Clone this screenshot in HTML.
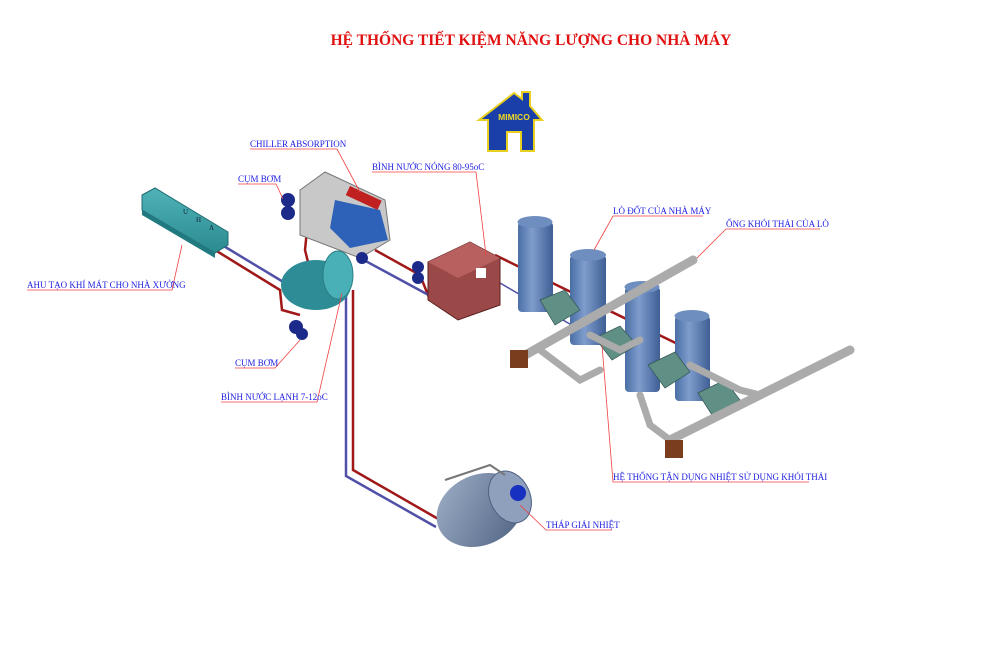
<!DOCTYPE html>
<html><head><meta charset="utf-8"><style>
html,body{margin:0;padding:0;background:#fff;}
svg{display:block;}
.l{font-family:"Liberation Serif",serif;font-size:9px;fill:#2020e0;}
</style></head><body>
<svg width="1000" height="647" viewBox="0 0 1000 647" xmlns="http://www.w3.org/2000/svg">
<defs>
<linearGradient id="cyl" x1="0" x2="1" y1="0" y2="0"><stop offset="0" stop-color="#4a6fa5"/><stop offset="0.4" stop-color="#7f9ccc"/><stop offset="1" stop-color="#3e5f95"/></linearGradient>
<linearGradient id="teal" x1="0" x2="0" y1="0" y2="1"><stop offset="0" stop-color="#4fb3b8"/><stop offset="1" stop-color="#2a8a90"/></linearGradient>
<linearGradient id="tw" x1="0" x2="1" y1="0" y2="1"><stop offset="0" stop-color="#9fb0c8"/><stop offset="1" stop-color="#4d6080"/></linearGradient>
</defs>
<text x="531" y="45" text-anchor="middle" font-family="Liberation Serif,serif" font-weight="bold" font-size="15.5" fill="#e01010">HỆ THỐNG TIẾT KIỆM NĂNG LƯỢNG CHO NHÀ MÁY</text>
<!-- logo -->
<polygon points="479,120 514,93 522,99 522,92 530,92 530,106 542,120 534,120 534,151 521,151 521,132 507,132 507,151 488,151 488,120" fill="#1a3fa8" stroke="#e8d020" stroke-width="2"/>
<text x="514" y="120" text-anchor="middle" font-family="Liberation Sans,sans-serif" font-weight="bold" font-size="8.5" fill="#f0d820">MIMICO</text>

<!-- pipes -->
<g fill="none" stroke-width="2.5">
<polyline points="215,250 280,290 282,310 300,315" stroke="#a01818"/>
<polyline points="222,245 285,283" stroke="#5050a8"/>
<polyline points="353,290 353,470 440,520" stroke="#a01818"/>
<polyline points="346,290 346,476 436,527" stroke="#5050a8"/>
<polyline points="375,250 420,275 430,300" stroke="#a01818"/>
<polyline points="360,258 460,312" stroke="#5050a8"/>
<polyline points="495,255 690,350" stroke="#a01818"/>
<polyline points="495,280 580,330" stroke="#5050a8" stroke-width="1.5"/>
<polyline points="310,200 305,250 310,270" stroke="#a01818"/>
</g>

<!-- AHU -->
<polygon points="142,195 155,188 228,232 228,245 215,253 142,210" fill="url(#teal)" stroke="#1f6d72" stroke-width="1"/>
<polygon points="142,210 215,253 215,258 142,215" fill="#217a80"/>
<text x="183" y="214" font-size="7" fill="#123">U</text><text x="196" y="222" font-size="7" fill="#123">H</text><text x="209" y="230" font-size="7" fill="#123">A</text>

<!-- chiller -->
<polygon points="300,190 325,172 385,200 390,240 360,258 300,235" fill="#c8c8c8" stroke="#777"/>
<polygon points="335,200 380,210 388,240 350,248 330,228" fill="#2e62b8"/>
<rect x="350" y="186" width="35" height="10" fill="#c02020" transform="rotate(25 350 186)"/>
<circle cx="288" cy="200" r="7" fill="#1c2a8a"/><circle cx="288" cy="213" r="7" fill="#1c2a8a"/>
<circle cx="362" cy="258" r="6" fill="#1c2a8a"/>

<!-- cold tank -->
<ellipse cx="316" cy="285" rx="35" ry="25" fill="#2e8c96"/>
<ellipse cx="338" cy="275" rx="15" ry="24" fill="#4ab0b8" stroke="#2a7d85"/>
<circle cx="296" cy="327" r="7" fill="#1c2a8a"/><circle cx="302" cy="334" r="6" fill="#1c2a8a"/>

<!-- hot tank -->
<polygon points="428,262 470,242 500,258 500,305 458,320 428,300" fill="#9a4848" stroke="#5a2020"/>
<polygon points="428,262 470,242 500,258 458,278" fill="#b86060"/>
<rect x="476" y="268" width="10" height="10" fill="#fff"/>
<circle cx="418" cy="267" r="6" fill="#1c2a8a"/><circle cx="418" cy="278" r="6" fill="#1c2a8a"/>

<!-- boilers -->
<g>
<rect x="518" y="222" width="35" height="90" rx="4" fill="url(#cyl)"/><ellipse cx="535" cy="222" rx="17.5" ry="6" fill="#6f8ec0"/>
<rect x="570" y="255" width="36" height="90" rx="4" fill="url(#cyl)"/><ellipse cx="588" cy="255" rx="18" ry="6" fill="#6f8ec0"/>
<rect x="625" y="287" width="35" height="105" rx="4" fill="url(#cyl)"/><ellipse cx="642" cy="287" rx="17.5" ry="6" fill="#6f8ec0"/>
<rect x="675" y="316" width="35" height="85" rx="4" fill="url(#cyl)"/><ellipse cx="692" cy="316" rx="17.5" ry="6" fill="#6f8ec0"/>
</g>
<g fill="#5f8f85" stroke="#355" stroke-width="0.7">
<polygon points="540,300 565,290 580,310 555,325"/>
<polygon points="595,338 620,326 637,345 612,360"/>
<polygon points="648,365 675,352 690,372 665,388"/>
<polygon points="698,393 725,380 740,400 712,415"/>
</g>
<!-- flue pipes -->
<g fill="none" stroke="#ababab" stroke-linecap="round">
<line x1="520" y1="358" x2="693" y2="260" stroke-width="9"/>
<line x1="670" y1="440" x2="850" y2="350" stroke-width="9"/>
<polyline points="540,350 580,380 600,370" stroke-width="7"/>
<polyline points="640,395 650,425 670,440" stroke-width="7"/>
<polyline points="590,335 620,350 640,340" stroke-width="7"/>
<polyline points="690,365 740,390 760,395" stroke-width="7"/>
</g>
<rect x="510" y="350" width="18" height="18" fill="#7a3e1e"/>
<rect x="665" y="440" width="18" height="18" fill="#7a3e1e"/>

<!-- cooling tower -->
<ellipse cx="480" cy="510" rx="45" ry="35" fill="url(#tw)" transform="rotate(-25 480 510)"/>
<ellipse cx="510" cy="497" rx="20" ry="27" fill="#8ea0bc" stroke="#4d6080" transform="rotate(-25 510 497)"/>
<circle cx="518" cy="493" r="8" fill="#1830c0"/>
<polyline points="445,480 490,465 505,475" fill="none" stroke="#777" stroke-width="2"/>

<!-- labels -->
<g stroke="#f04040" stroke-width="0.8" fill="none">
<polyline points="250,149 337,149 360,192"/>
<polyline points="238,184 276,184 283,199"/>
<polyline points="372,172 476,172 486,255"/>
<polyline points="27,290 172,290 182,245"/>
<polyline points="235,368 275,368 300,340"/>
<polyline points="221,402 317,402 342,293"/>
<polyline points="703,216 613,216 594,250"/>
<polyline points="820,229 726,229 697,258"/>
<polyline points="809,482 613,482 602,345"/>
<polyline points="612,530 546,530 520,505"/>
</g>
<text class="l" x="250" y="147">CHILLER ABSORPTION</text>
<text class="l" x="238" y="182">CỤM BƠM</text>
<text class="l" x="372" y="170">BÌNH NƯỚC NÓNG  80-95oC</text>
<text class="l" x="27" y="288">AHU TẠO KHÍ MÁT CHO NHÀ XƯỞNG</text>
<text class="l" x="235" y="366">CỤM BƠM</text>
<text class="l" x="221" y="400">BÌNH NƯỚC LẠNH 7-12oC</text>
<text class="l" x="613" y="214">LÒ ĐỐT CỦA NHÀ MÁY</text>
<text class="l" x="726" y="227">ỐNG KHÓI THẢI CỦA LÒ</text>
<text class="l" x="613" y="480">HỆ THỐNG TẬN DỤNG NHIỆT SỬ DỤNG KHÓI THẢI</text>
<text class="l" x="546" y="528">THÁP GIẢI NHIỆT</text>
</svg>
</body></html>
